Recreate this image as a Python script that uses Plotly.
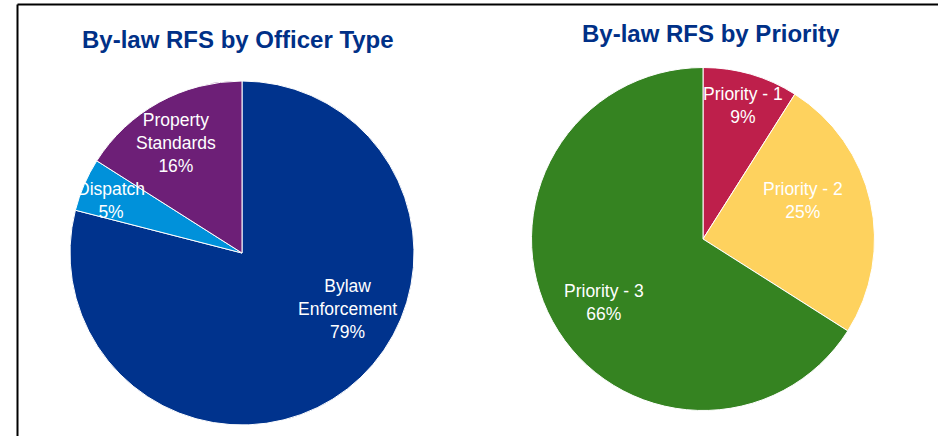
import plotly.graph_objects as go

# --- data ---------------------------------------------------------------
officer_types = ["Bylaw Enforcement", "Dispatch", "Property Standards"]
officer_values = [79, 5, 16]
officer_label_lines = [["Bylaw", "Enforcement"], ["Dispatch"], ["Property", "Standards"]]
officer_colors = ["#00338D", "#0091DA", "#6D1F77"]

priorities = ["Priority - 1", "Priority - 2", "Priority - 3"]
priority_values = [9, 25, 66]
priority_colors = ["#BE1F4B", "#FED25E", "#358321"]

# label anchor points (paper fractions) for each slice's text
officer_label_pos = [(347 / 938, 1 - 309 / 436), (111 / 938, 1 - 200.5 / 436), (176 / 938, 1 - 143 / 436)]
priority_label_pos = [(743 / 938, 1 - 105 / 436), (803 / 938, 1 - 200.5 / 436), (604 / 938, 1 - 302.5 / 436)]

W, H = 938, 436
TITLE_COLOR = "#003087"
FONT = "Liberation Sans, Arial, sans-serif"

fig = go.Figure()

fig.add_trace(go.Pie(
    labels=officer_types, values=officer_values,
    marker=dict(colors=officer_colors, line=dict(color="white", width=1)),
    sort=False, direction="clockwise", rotation=0,
    textinfo="none", hoverinfo="label+percent", showlegend=False,
    domain=dict(x=[70 / W, 414 / W], y=[11 / H, 355 / H]),
))

fig.add_trace(go.Pie(
    labels=priorities, values=priority_values,
    marker=dict(colors=priority_colors, line=dict(color="white", width=1)),
    sort=False, direction="clockwise", rotation=0,
    textinfo="none", hoverinfo="label+percent", showlegend=False,
    domain=dict(x=[531.5 / W, 874.5 / W], y=[25.5 / H, 368.5 / H]),
))

annotations = []

# chart titles
annotations.append(dict(text="<b>By-law RFS by Officer Type</b>", x=237.5 / W, y=1 - 39.5 / H,
                        xref="paper", yref="paper", showarrow=False, xanchor="center", yanchor="middle",
                        font=dict(family=FONT, size=24, color=TITLE_COLOR)))
annotations.append(dict(text="<b>By-law RFS by Priority</b>", x=711 / W, y=1 - 33.5 / H,
                        xref="paper", yref="paper", showarrow=False, xanchor="center", yanchor="middle",
                        font=dict(family=FONT, size=24, color=TITLE_COLOR)))

# slice labels: name + percentage share
def slice_labels(lines_list, values, positions):
    total = sum(values)
    out = []
    for lines, v, (px, py) in zip(lines_list, values, positions):
        pct = round(100 * v / total)
        out.append(dict(text="<br>".join(lines + [f"{pct}%"]), x=px, y=py,
                        xref="paper", yref="paper", showarrow=False,
                        xanchor="center", yanchor="middle", align="center",
                        font=dict(family=FONT, size=17.5, color="white")))
    return out

annotations += slice_labels(officer_label_lines, officer_values, officer_label_pos)
annotations += slice_labels([[p] for p in priorities], priority_values, priority_label_pos)

# frame along the top and left edges
shapes = [
    dict(type="line", xref="paper", yref="paper", x0=17.5 / W, x1=1.0, y0=1 - 4.5 / H, y1=1 - 4.5 / H,
         line=dict(color="#000000", width=2)),
    dict(type="line", xref="paper", yref="paper", x0=17.5 / W, x1=17.5 / W, y0=0.0, y1=1 - 4.5 / H,
         line=dict(color="#000000", width=2)),
]

fig.update_layout(
    width=W, height=H,
    margin=dict(l=0, r=0, t=0, b=0),
    paper_bgcolor="white", plot_bgcolor="white",
    annotations=annotations, shapes=shapes,
    font=dict(family=FONT),
)

fig.write_html("out.html")
